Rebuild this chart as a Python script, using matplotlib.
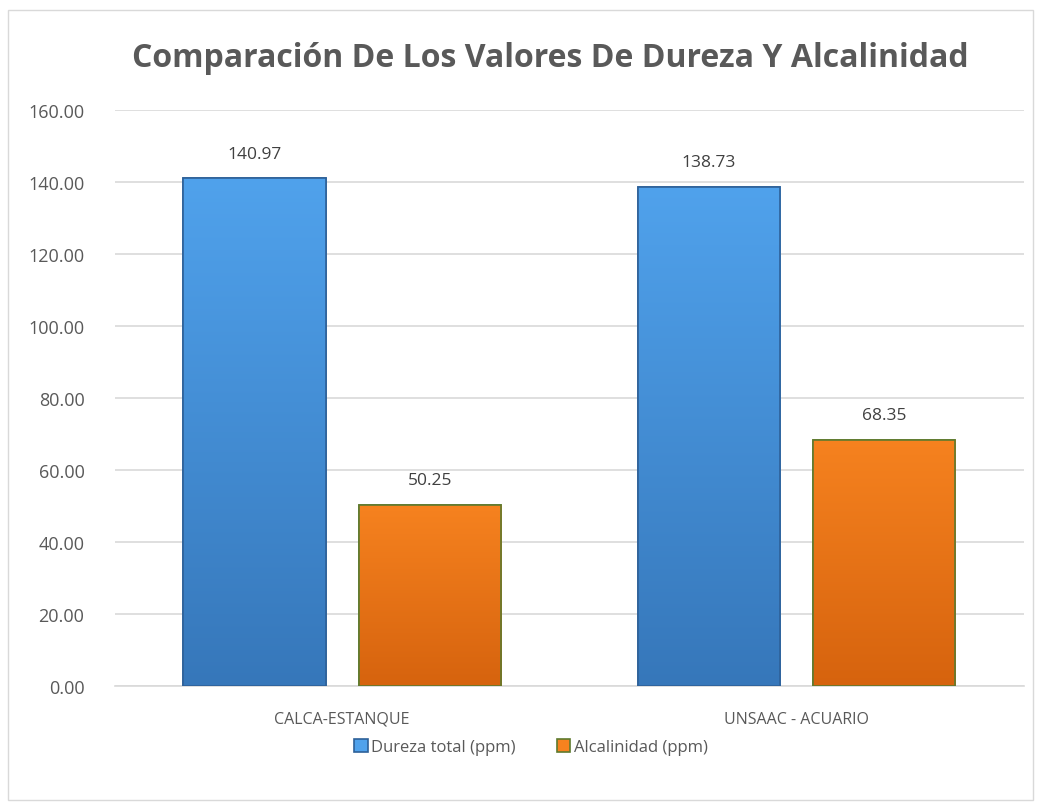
import matplotlib
matplotlib.use("Agg")
import matplotlib.pyplot as plt
import numpy as np
from matplotlib.patches import Rectangle
from matplotlib.colors import LinearSegmentedColormap

categories = ["CALCA-ESTANQUE", "UNSAAC - ACUARIO"]
series_names = ["Dureza total (ppm)", "Alcalinidad (ppm)"]
dureza = [140.97, 138.73]
alcalinidad = [50.25, 68.35]
yticks = [0, 20, 40, 60, 80, 100, 120, 140, 160]

plt.rcParams['font.family'] = ['Open Sans', 'DejaVu Sans']
fig = plt.figure(figsize=(10.41, 8.03), dpi=100)
fig.patch.set_facecolor('white')
fig.add_artist(Rectangle((0.008, 0.003), 0.984, 0.983, transform=fig.transFigure,
                         fill=False, edgecolor='#D9D9D9', linewidth=1.0))
ax = fig.add_axes([0.1105, 0.1445, 0.873, 0.7173])

x = np.arange(len(categories))
w = 0.313
off = 0.193
grads = [("#50A2EC", "#3677BA"), ("#F6821F", "#D6630E")]
edge = ['#2E6199', '#5E7A2E']
for i, (vals, name) in enumerate(zip([dureza, alcalinidad], series_names)):
    pos = x + (off if i else -off)
    cmap = LinearSegmentedColormap.from_list(f"g{i}", [grads[i][1], grads[i][0]])
    bars = ax.bar(pos, vals, width=w, color=grads[i][0], edgecolor=edge[i],
                  linewidth=1.2, label=name, zorder=3)
    for b, v in zip(bars, vals):
        x0 = b.get_x()
        grad = np.linspace(0, 1, 256).reshape(-1, 1)
        im = ax.imshow(grad, extent=(x0, x0 + b.get_width(), 0, v), origin='lower',
                       aspect='auto', cmap=cmap, zorder=3.5)
        im.set_clip_path(b)
        ax.add_patch(Rectangle((x0, 0), b.get_width(), v, fill=False,
                               edgecolor=edge[i], linewidth=1.2, zorder=4))
        ax.annotate(f"{v:.2f}", (x0 + b.get_width() / 2, v),
                    xytext=(0, 12), textcoords='offset points', ha='center',
                    va='bottom', fontsize=12.5, color='#404040')

ax.set_xlim(-0.5, 1.5)
ax.set_ylim(0, 160)
ax.set_yticks(yticks)
ax.set_yticklabels([f"{t:.2f}" for t in yticks], fontsize=13, color='#595959')
ax.set_xticks(x)
ax.set_xticklabels(categories, fontsize=11.5, color='#595959')
ax.tick_params(axis='x', length=0, pad=18)
ax.tick_params(axis='y', length=0, pad=22)
ax.grid(axis='y', color='#D9D9D9', linewidth=1.2, zorder=0)
for s in ['top', 'right', 'left']:
    ax.spines[s].set_visible(False)
ax.spines['bottom'].set_color('#D9D9D9')
ax.spines['bottom'].set_linewidth(1.2)

fig.text(0.529, 0.927, "Comparación De Los Valores De Dureza Y Alcalinidad",
         ha='center', va='center', fontsize=23, fontweight='bold', color='#595959')

leg = fig.legend(loc='center', bbox_to_anchor=(0.51, 0.068), ncol=2, frameon=False,
                 fontsize=12, handlelength=0.8, handleheight=0.8, handletextpad=0.2,
                 columnspacing=2.5, labelcolor='#595959')

fig.savefig("out.png", dpi=100, facecolor='white')
